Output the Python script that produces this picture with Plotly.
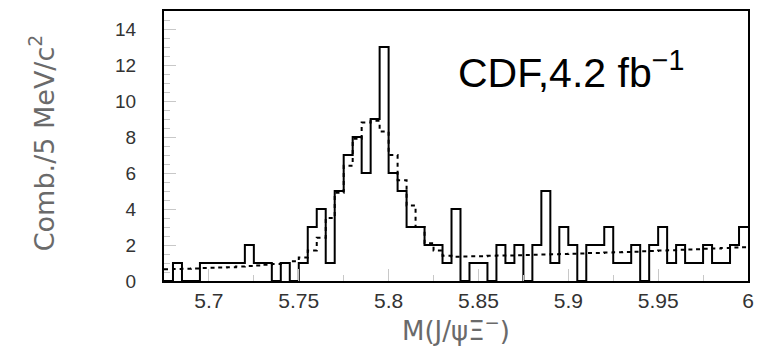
import plotly.graph_objects as go

# Bin edges: 5 MeV bins from 5.675 to 6.000 GeV/c^2
x_start = 5.675
bin_width = 0.005
counts = [0, 1, 0, 0, 1, 1, 1, 1, 1, 2,
          1, 1, 0, 1, 0, 1, 3, 4, 1, 5,
          7, 8, 6, 9, 13, 6, 5, 3, 3, 2,
          2, 1, 4, 0, 1, 1, 0, 2, 1, 2,
          0, 2, 5, 1, 3, 2, 0, 2, 2, 3,
          1, 1, 2, 0, 2, 3, 1, 2, 1, 1,
          2, 1, 1, 2, 3]
fit = [0.65, 0.67, 0.68, 0.70, 0.72, 0.73, 0.75, 0.77, 0.80, 0.83,
       0.86, 0.90, 0.95, 1.00, 1.10, 1.30, 1.70, 2.40, 3.50, 4.90,
       6.40, 7.90, 8.80, 8.90, 8.30, 7.00, 5.60, 4.20, 3.00, 2.10,
       1.70, 1.40, 1.35, 1.36, 1.37, 1.38, 1.40, 1.41, 1.42, 1.43,
       1.45, 1.46, 1.47, 1.49, 1.50, 1.52, 1.53, 1.55, 1.56, 1.58,
       1.60, 1.61, 1.63, 1.65, 1.67, 1.69, 1.71, 1.73, 1.75, 1.77,
       1.79, 1.81, 1.84, 1.86, 1.88]
x_ticks = [5.7, 5.75, 5.8, 5.85, 5.9, 5.95, 6.0]
x_tick_labels = ["5.7", "5.75", "5.8", "5.85", "5.9", "5.95", "6"]
y_ticks = [0, 2, 4, 6, 8, 10, 12, 14]

edges = [round(x_start + i * bin_width, 4) for i in range(len(counts) + 1)]

fig = go.Figure()
fig.add_trace(go.Scatter(
    x=edges, y=fit + [fit[-1]], mode="lines", line_shape="hv",
    line=dict(color="black", width=2, dash="4px,4px"), hoverinfo="skip"))
fig.add_trace(go.Scatter(
    x=edges, y=counts + [counts[-1]], mode="lines", line_shape="hv",
    line=dict(color="black", width=2), hoverinfo="skip"))

fig.add_annotation(
    text="CDF,4.2 fb<sup>\u22121</sup>", xref="paper", yref="paper",
    x=(575 - 164) / 590, y=(281 - 70) / 270, xanchor="center", yanchor="middle",
    showarrow=False, font=dict(family="Liberation Sans, Arial", size=41, color="black"))
fig.add_annotation(
    text="Comb./5 MeV/c<sup>2</sup>", xref="paper", yref="paper",
    x=(40 - 164) / 590, y=(281 - 143) / 270, xanchor="center", yanchor="middle",
    textangle=-90, showarrow=False,
    font=dict(family="DejaVu Sans", size=27, color="#6a6a6a"))

fig.update_layout(
    width=763, height=348,
    margin=dict(l=164, r=9, t=11, b=67),
    paper_bgcolor="white", plot_bgcolor="white",
    showlegend=False,
    font=dict(family="Liberation Sans, Arial", color="#333333"),
    xaxis=dict(
        range=[5.675, 6.0], tickvals=x_ticks, ticktext=x_tick_labels,
        ticks="inside", ticklen=12, tickcolor="#c8c8c8", tickwidth=1,
        minor=dict(dtick=0.025, tick0=5.7, ticks="inside", ticklen=6, tickcolor="#c8c8c8"),
        showgrid=False, zeroline=False,
        showline=True, linecolor="black", linewidth=2, mirror=True,
        tickfont=dict(size=21, color="#333333"),
        title=dict(text="M(J/\u03c8\u039e<sup>\u2212</sup>)", standoff=6,
                   font=dict(family="DejaVu Sans", size=26, color="#6a6a6a")),
    ),
    yaxis=dict(
        range=[0, 15], tickvals=y_ticks,
        ticks="inside", ticklen=12, tickcolor="#c8c8c8", tickwidth=1,
        minor=dict(dtick=0.5, ticks="inside", ticklen=6, tickcolor="#c8c8c8"),
        showgrid=False, zeroline=False,
        showline=True, linecolor="black", linewidth=2, mirror=True,
        tickfont=dict(size=19, color="#333333"),
        ticklabelstandoff=22,
    ),
)

fig.write_html("out.html")
